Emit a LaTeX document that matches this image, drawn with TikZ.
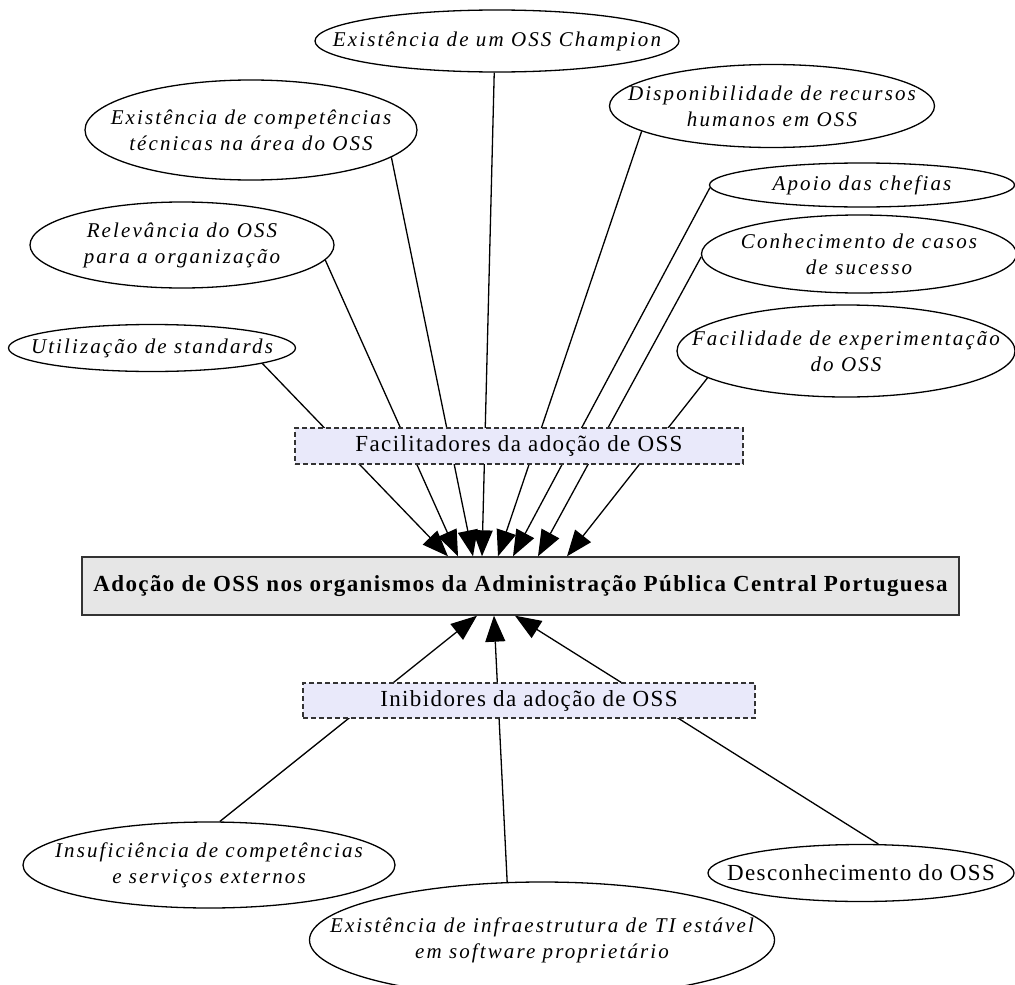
\documentclass[tikz,border=0pt]{standalone}
\usepackage{fontspec}
\setmainfont{Liberation Serif}
\newfontfamily\itsp[LetterSpace=10]{Liberation Serif Italic}
\newfontfamily\rmsp[LetterSpace=6]{Liberation Serif}
\newfontfamily\bfsp[LetterSpace=6]{Liberation Serif Bold}
\usetikzlibrary{shapes.geometric,arrows.meta}
\definecolor{boxlav}{RGB}{233,233,250}
\definecolor{boxgray}{RGB}{230,230,230}
\tikzset{
  % the ellipse size is fixed by minimum width/height; the negative
  % inner sep keeps the text from enlarging it
  factor/.style={ellipse, draw=black, line width=1.3pt, fill=white,
    inner xsep=-300pt, inner ysep=-100pt,
    align=center, font=\fontsize{21}{26}\selectfont\itsp},
  group/.style={rectangle, draw=black!80, dash pattern=on 5pt off 3pt,
    line width=1.1pt, fill=boxlav, inner sep=0pt, font=\fontsize{23}{26}\selectfont\rmsp},
  central/.style={rectangle, draw=black!80, line width=1.4pt, fill=boxgray, inner sep=0pt,
    font=\fontsize{23}{26}\selectfont\bfsp},
  link/.style={line width=1.3pt, -{Triangle[length=26pt,width=20pt]}},
}
\begin{document}
\begin{tikzpicture}[x=1pt,y=-1pt]
\useasboundingbox (0,0) rectangle (1015,985);

% central outcome
\node[central, minimum width=877pt, minimum height=58pt] (main) at (520.5,586)
  {Adoção de OSS nos organismos da Administração Pública Central Portuguesa};

% facilitating factors
\node[factor, minimum width=364pt, minimum height=62pt] (champ) at (497,41) {Existência de um OSS Champion};
\node[factor, minimum width=332pt, minimum height=100pt] (comp) at (251,130) {Existência de competências\\técnicas na área do OSS};
\node[factor, minimum width=304pt, minimum height=86pt] (relev) at (182,245) {Relevância do OSS\\para a organização};
\node[factor, minimum width=287pt, minimum height=47pt] (util) at (152,348) {Utilização de standards};
\node[factor, minimum width=325pt, minimum height=83pt] (disp) at (772,106) {Disponibilidade de recursos\\humanos em OSS};
\node[factor, minimum width=305pt, minimum height=44pt] (apoio) at (862,185) {Apoio das chefias};
\node[factor, minimum width=315pt, minimum height=78pt] (conh) at (859,254) {Conhecimento de casos\\de sucesso};
\node[factor, minimum width=338pt, minimum height=92pt] (facil) at (846,351) {Facilidade de experimentação\\do OSS};

% inhibiting factors
\node[factor, minimum width=372pt, minimum height=86pt] (insuf) at (209,865) {Insuficiência de competências\\e serviços externos};
\node[factor, minimum width=465pt, minimum height=116pt] (infra) at (542,940) {Existência de infraestrutura de TI estável\\em software proprietário};
\node[factor, minimum width=306pt, minimum height=57pt, font=\fontsize{23}{26}\selectfont\rmsp] (desc) at (861,873) {Desconhecimento do OSS};

% connectors into the central box
\draw[link] (util.-8)    -- ([xshift=-72.5pt]main.north);
\draw[link] (relev.-6)   -- ([xshift=-62.5pt]main.north);
\draw[link] (comp.-11)   -- ([xshift=-47.5pt]main.north);
\draw[link] (champ.-95)  -- ([xshift=-38.5pt]main.north);
\draw[link] (disp.191)   -- ([xshift=-22.5pt]main.north);
\draw[link] (apoio.181)  -- ([xshift=-7.5pt]main.north);
\draw[link] (conh.181)   -- ([xshift=17.5pt]main.north);
\draw[link] (facil.191)  -- ([xshift=46.5pt]main.north);

\draw[link] (insuf.76)   -- ([xshift=-43.5pt]main.south);
\draw[link] (infra.121)  -- ([xshift=-26.5pt]main.south);
\draw[link] (desc.59)    -- ([xshift=-5.5pt]main.south);

% group labels laid over the connectors
\node[group, minimum width=448pt, minimum height=36pt] (fac) at (519,446) {Facilitadores da adoção de OSS};
\node[group, minimum width=452pt, minimum height=35pt] (ini) at (529,700.5) {Inibidores da adoção de OSS};
\end{tikzpicture}
\end{document}
